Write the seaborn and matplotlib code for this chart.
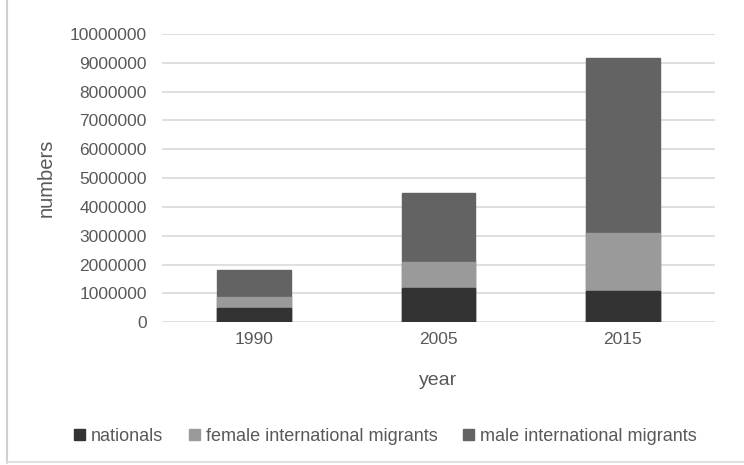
import numpy as np
import pandas as pd
import matplotlib.pyplot as plt
import seaborn as sns
from matplotlib.patches import Patch
from matplotlib.lines import Line2D

years = ["1990", "2005", "2015"]
nationals = [490000, 1200000, 1080000]
female_migrants = [390000, 890000, 2030000]
male_migrants = [930000, 2400000, 6060000]

series = ["nationals", "female international migrants", "male international migrants"]
colors = ["#333333", "#9a9a9a", "#636363"]

df = pd.DataFrame({"year": years, "nationals": nationals,
                   "female international migrants": female_migrants,
                   "male international migrants": male_migrants})
# cumulative heights, drawn tallest first so the stack looks right
df["c1"] = df["nationals"]
df["c2"] = df["c1"] + df["female international migrants"]
df["c3"] = df["c2"] + df["male international migrants"]

sns.set_style("white")
plt.rcParams["font.family"] = ["Liberation Sans", "DejaVu Sans"]

fig = plt.figure(figsize=(7.44, 4.65), dpi=100)
ax = fig.add_axes([0.218, 0.307, 0.743, 0.62])

for col, color in zip(["c3", "c2", "c1"], colors[::-1]):
    sns.barplot(data=df, x="year", y=col, color=color, width=0.4,
                saturation=1, ax=ax, zorder=3, edgecolor=color)

ax.set_ylim(0, 10000000)
ax.set_yticks(np.arange(0, 10000001, 1000000))
ax.set_yticklabels([str(v) for v in range(0, 10000001, 1000000)])
ax.yaxis.grid(True, color="#d9d9d9", linewidth=1.2, zorder=0)
ax.set_axisbelow(True)
for s in ax.spines.values():
    s.set_visible(False)
ax.tick_params(axis="both", length=0, labelsize=12.5, labelcolor="#595959")
ax.tick_params(axis="y", pad=11)
ax.tick_params(axis="x", pad=7)
ax.set_xlabel("year", fontsize=14, color="#595959", labelpad=18)
ax.set_ylabel("numbers", fontsize=14.5, color="#595959", labelpad=10)

handles = [Patch(facecolor=c, edgecolor=c) for c in colors]
fig.legend(handles, series, loc="center", bbox_to_anchor=(0.518, 0.062), ncol=3,
           frameon=False, fontsize=13, handlelength=0.6, handleheight=0.6,
           handletextpad=0.35, columnspacing=1.4, labelcolor="#595959")

# light frame from the original screenshot
fig.add_artist(Line2D([0.009, 0.009], [0.005, 1.0], color="#d0d0d0", lw=1.5))
fig.add_artist(Line2D([0.009, 1.0], [0.006, 0.006], color="#e0e0e0", lw=1.5))

fig.savefig("out.png", dpi=100)
